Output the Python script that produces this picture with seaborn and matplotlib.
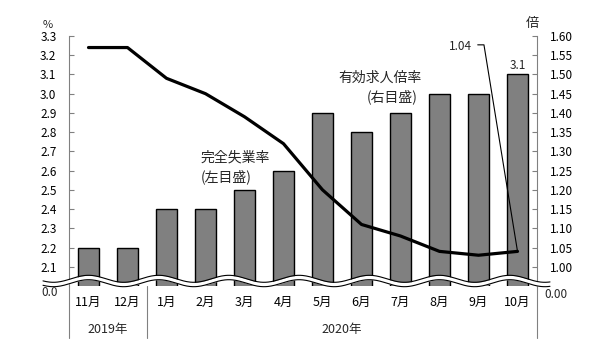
import numpy as np
import pandas as pd
import matplotlib
matplotlib.use("Agg")
import matplotlib.pyplot as plt
import matplotlib.transforms as mtransforms
import seaborn as sns

# Monthly labour statistics, Nov 2019 - Oct 2020
months = ["11月", "12月", "1月", "2月", "3月", "4月", "5月", "6月", "7月", "8月", "9月", "10月"]
unemployment = [2.2, 2.2, 2.4, 2.4, 2.5, 2.6, 2.9, 2.8, 2.9, 3.0, 3.0, 3.1]          # 完全失業率 (%)
job_ratio = [1.57, 1.57, 1.49, 1.45, 1.39, 1.32, 1.20, 1.11, 1.08, 1.04, 1.03, 1.04]  # 有効求人倍率 (倍)
years = ["2019年", "2020年"]
year_spans = [(0, 1), (2, 11)]

left_ticks = [2.1, 2.2, 2.3, 2.4, 2.5, 2.6, 2.7, 2.8, 2.9, 3.0, 3.1, 3.2, 3.3]
right_ticks = [1.00, 1.05, 1.10, 1.15, 1.20, 1.25, 1.30, 1.35, 1.40, 1.45, 1.50, 1.55, 1.60]

df = pd.DataFrame({"month": months, "idx": np.arange(len(months)),
                   "unemp": unemployment, "ratio": job_ratio})

sns.set_theme(style="white")
plt.rcParams["font.family"] = ["Noto Sans CJK JP", "DejaVu Sans"]

GREY = "#808080"
fig = plt.figure(figsize=(6.1, 3.5), dpi=100)
ax = fig.add_axes([69 / 610, 1 - 286 / 350, 468 / 610, 250 / 350])

sns.barplot(data=df, x="month", y="unemp", ax=ax, color=GREY, saturation=1,
            width=0.55, edgecolor="black", linewidth=1.0, zorder=2)
ax.set_xlim(-0.5, len(months) - 0.5)
ax.set_ylim(2.0, 3.3)
ax.set_yticks(left_ticks)
ax.set_yticklabels([f"{t:.1f}" for t in left_ticks])
ax.set_xlabel("")
ax.set_ylabel("")

ax2 = ax.twinx()
sns.lineplot(data=df, x="idx", y="ratio", ax=ax2, color="black", linewidth=2.3, zorder=3)
ax2.set_ylim(0.95, 1.60)
ax2.set_yticks(right_ticks)
ax2.set_yticklabels([f"{t:.2f}" for t in right_ticks])
ax2.set_xlim(-0.5, len(months) - 0.5)
ax2.set_xlabel("")
ax2.set_ylabel("")

for a in (ax, ax2):
    for s in a.spines.values():
        s.set_visible(False)
ax.spines["left"].set_visible(True)
ax.spines["left"].set_color(GREY)
ax.spines["left"].set_linewidth(0.8)
ax2.spines["right"].set_visible(True)
ax2.spines["right"].set_color(GREY)
ax2.spines["right"].set_linewidth(0.8)

ax.tick_params(axis="y", direction="in", length=3.5, color=GREY, width=0.8,
               pad=9, labelsize=8.5, labelcolor="black", left=True)
ax2.tick_params(axis="y", direction="in", length=3.5, color=GREY, width=0.8,
                pad=9, labelsize=8.5, labelcolor="black", right=True)
ax.tick_params(axis="x", length=0, pad=7, labelsize=9, labelcolor="black")

# zero labels below the axis break
ax.text(-11 / 468, -6 / 250, "0.0", transform=ax.transAxes, ha="right", va="center", fontsize=8.5)
ax2.text(1 + 7 / 468, -8 / 250, "0.00", transform=ax2.transAxes, ha="left", va="center", fontsize=8.5)

# unit labels
ax.text(-21 / 468, 261 / 250, "%", transform=ax.transAxes, ha="center", va="center", fontsize=8)
ax.text(463 / 468, 262 / 250, "倍", transform=ax.transAxes, ha="center", va="center", fontsize=9.5)

# category separators extending below the plot
blend = mtransforms.blended_transform_factory(ax2.transData, ax2.transAxes)
for xs in (-0.5, 1.5, len(months) - 0.5):
    ax2.plot([xs, xs], [0, -52 / 250], transform=blend, color=GREY, lw=0.8, clip_on=False, zorder=1)

# year labels
for yr, (a0, a1) in zip(years, year_spans):
    ax2.text((a0 + a1) / 2, -44 / 250, yr, transform=blend, ha="center", va="center", fontsize=9)

# wavy axis break
xw = np.linspace(-0.5 - 26 / 39, len(months) - 0.5 + 13 / 39, 600)
yc = 5 / 250 + (3.5 / 250) * np.cos(2 * np.pi * xw / 1.8)
half = 2.2 / 250
ax2.fill_between(xw, yc - half, yc + half, transform=blend, color="white", zorder=10, clip_on=False, lw=0)
ax2.plot(xw, yc - half, transform=blend, color="black", lw=0.8, zorder=11, clip_on=False)
ax2.plot(xw, yc + half, transform=blend, color="black", lw=0.8, zorder=11, clip_on=False)

# value labels
last = len(months) - 1
ax.annotate(f"{unemployment[last]:.1f}", xy=(last, unemployment[last]), xytext=(0, 1.5),
            textcoords="offset points", ha="center", va="bottom", fontsize=8.5)
ax2.text(9.83, 1.572, f"{job_ratio[last]:.2f}", ha="right", va="center", fontsize=8.5)
ax2.plot([9.98, 10.14, last], [1.577, 1.577, job_ratio[last]], color="black", lw=0.8, zorder=4)

# series captions
ax.text(2.885, 2.666, "完全失業率", ha="left", va="center", fontsize=10)
ax.text(2.885, 2.567, "(左目盛)", ha="left", va="center", fontsize=10)
ax.text(6.397, 3.082, "有効求人倍率", ha="left", va="center", fontsize=10)
ax.text(7.14, 2.983, "(右目盛)", ha="left", va="center", fontsize=10)

fig.savefig("out.png", dpi=100)
